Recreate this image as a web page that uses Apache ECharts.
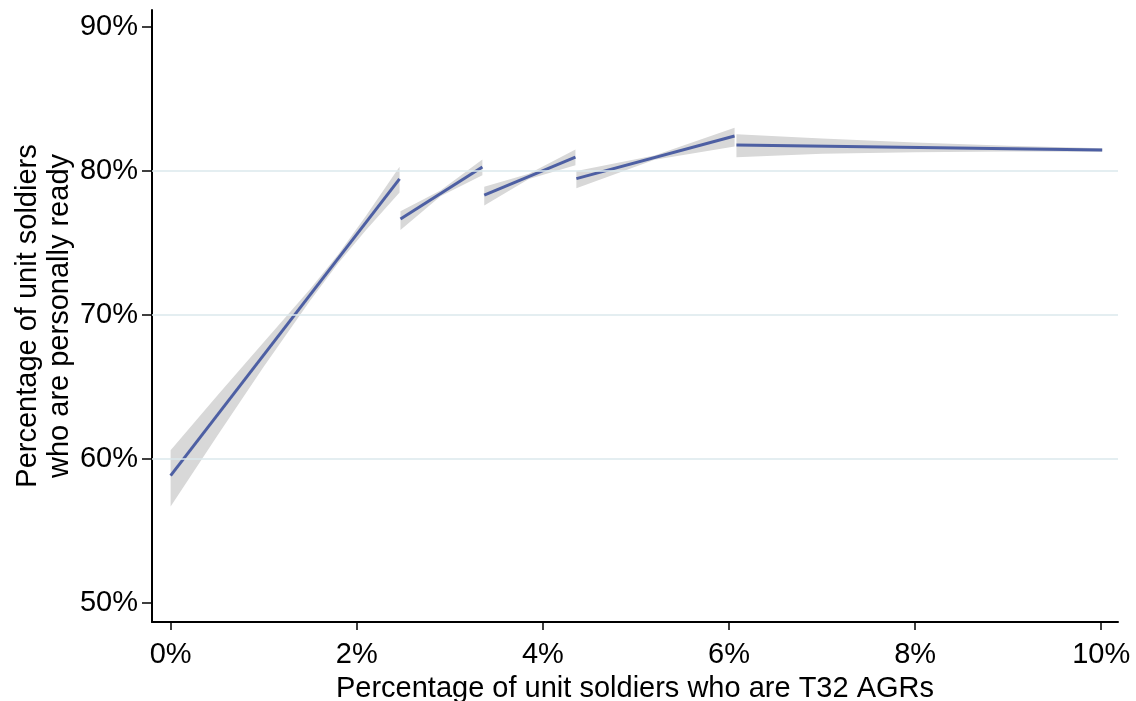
<!DOCTYPE html>
<html>
<head>
<meta charset="utf-8">
<title>Personal readiness vs. share of T32 AGRs</title>
<script src="https://cdn.jsdelivr.net/npm/echarts@6/dist/echarts.min.js"></script>
<style>
  html, body { margin: 0; padding: 0; background: #ffffff; }
  #chart { width: 1136px; height: 701px; }
</style>
</head>
<body>
<div id="chart"></div>
<script>
// Tick positions (percent)
const xTicks = [0, 2, 4, 6, 8, 10];
const yTicks = [50, 60, 70, 80, 90];
const yGrid = [60, 70, 80];

// Fitted line for each piece: start/end x and start/end y (percent)
const seg1Fit = { x: [0, 2.46], y: [58.85, 79.45] };
const seg2Fit = { x: [2.47, 3.35], y: [76.67, 80.28] };
const seg3Fit = { x: [3.37, 4.35], y: [78.33, 80.97] };
const seg4Fit = { x: [4.36, 6.06], y: [79.47, 82.43] };
const seg5Fit = { x: [6.08, 10.01], y: [81.81, 81.46] };

// Confidence band for each piece: x, lower bound, upper bound (percent)
const seg1Band = {
  x:  [0,    0.5,  1.0,  1.5,  1.8,  2.1,  2.46],
  lo: [56.7, 61.6, 66.4, 71.0, 73.6, 75.9, 78.5],
  hi: [60.6, 64.4, 68.1, 71.8, 74.2, 76.9, 80.3]
};
const seg2Band = {
  x:  [2.47, 2.9,   3.35],
  lo: [75.9, 78.25, 79.7],
  hi: [77.2, 78.65, 80.8]
};
const seg3Band = {
  x:  [3.37, 3.85,  4.35],
  lo: [77.6, 79.45, 80.4],
  hi: [78.9, 79.8,  81.5]
};
const seg4Band = {
  x:  [4.36, 5.2,   6.06],
  lo: [78.8, 80.78, 81.7],
  hi: [80.0, 81.08, 83.0]
};
const seg5Band = {
  x:  [6.08,  7,     8,     9,     10.01],
  lo: [80.95, 81.2,  81.3,  81.35, 81.34],
  hi: [82.55, 82.25, 81.98, 81.75, 81.58]
};

const fits = [seg1Fit, seg2Fit, seg3Fit, seg4Fit, seg5Fit];
const bands = [seg1Band, seg2Band, seg3Band, seg4Band, seg5Band];

const LINE_BLUE = '#4d5fa3';
const BAND_GRAY = '#d8d8d8';
const GRID_COLOR = '#dbe9ec';
const FONT = '"Liberation Sans", Arial, Helvetica, sans-serif';
const FONT_SIZE = 29;

const chart = echarts.init(document.getElementById('chart'), null, { renderer: 'canvas' });

// Polygon for one band: upper edge left-to-right, lower edge right-to-left
function renderBand(params, api) {
  const b = bands[api.value(2)];
  const pts = [];
  for (let i = 0; i < b.x.length; i++) pts.push(api.coord([b.x[i], b.hi[i]]));
  for (let i = b.x.length - 1; i >= 0; i--) pts.push(api.coord([b.x[i], b.lo[i]]));
  return {
    type: 'polygon',
    shape: { points: pts },
    style: { fill: BAND_GRAY, stroke: null }
  };
}

const series = [
  {
    // horizontal reference lines
    type: 'line',
    data: [],
    z: 1,
    silent: true,
    markLine: {
      silent: true,
      symbol: ['none', 'none'],
      label: { show: false },
      lineStyle: { color: GRID_COLOR, width: 1.5, type: 'solid' },
      data: yGrid.map(v => ({ yAxis: v }))
    }
  },
  {
    type: 'custom',
    z: 2,
    silent: true,
    renderItem: renderBand,
    encode: { x: 0, y: 1 },
    data: bands.map((b, i) => [b.x[0], b.lo[0], i])
  }
];

fits.forEach(f => {
  series.push({
    type: 'line',
    z: 3,
    silent: true,
    showSymbol: false,
    symbol: 'none',
    lineStyle: { color: LINE_BLUE, width: 3 },
    data: f.x.map((x, i) => [x, f.y[i]])
  });
});

chart.setOption({
  animation: false,
  backgroundColor: '#ffffff',
  grid: { left: 152, right: 18, top: 10, bottom: 79, containLabel: false, outerBoundsMode: 'none' },
  xAxis: {
    type: 'value',
    min: -0.2,
    max: 10.18,
    name: 'Percentage of unit soldiers who are T32 AGRs',
    nameLocation: 'middle',
    nameMoveOverlap: false,
    nameGap: 52,
    nameTextStyle: { fontFamily: FONT, fontSize: FONT_SIZE, color: '#000' },
    axisLine: { show: true, onZero: false, lineStyle: { color: '#000', width: 2 } },
    axisTick: { show: true, length: 8, customValues: xTicks, lineStyle: { color: '#000', width: 1.5 } },
    axisLabel: {
      customValues: xTicks,
      margin: 18,
      fontFamily: FONT, fontSize: FONT_SIZE, color: '#000',
      formatter: v => v + '%'
    },
    splitLine: { show: false }
  },
  yAxis: {
    type: 'value',
    min: 48.68,
    max: 91.18,
    name: 'Percentage of unit soldiers\nwho are personally ready',
    nameLocation: 'middle',
    nameMoveOverlap: false,
    nameGap: 76,
    nameRotate: 90,
    nameTextStyle: { fontFamily: FONT, fontSize: FONT_SIZE, color: '#000', lineHeight: 32 },
    axisLine: { show: true, onZero: false, lineStyle: { color: '#000', width: 2 } },
    axisTick: { show: true, length: 10, customValues: yTicks, lineStyle: { color: '#000', width: 1.5 } },
    axisLabel: {
      customValues: yTicks,
      margin: 14,
      fontFamily: FONT, fontSize: FONT_SIZE, color: '#000',
      formatter: v => v + '%'
    },
    splitLine: { show: false }
  },
  series: series
});
</script>
</body>
</html>
